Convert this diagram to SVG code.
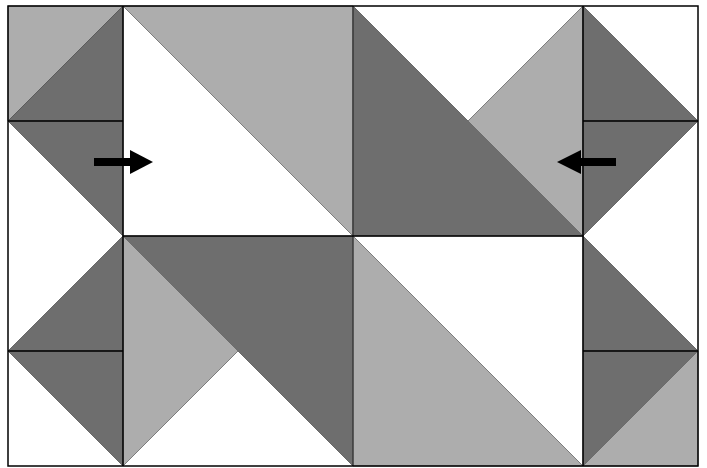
<svg xmlns="http://www.w3.org/2000/svg" width="707" height="468" viewBox="0 0 707 468">
<style>
.l{fill:#adadad;stroke:#666;stroke-width:0.8}
.d{fill:#6e6e6e;stroke:#555;stroke-width:0.8}
.g{stroke:#000;stroke-width:1.5;fill:none}
.a{fill:#000}
</style>
<rect x="0" y="0" width="707" height="468" fill="#fff"/>
<g id="tiles">
<polygon class="l" points="8,6 123,6 8,121"/>
<polygon class="d" points="123,6 123,121 8,121"/>
<polygon class="d" points="8,121 123,121 123,236"/>
<polygon class="l" points="123,6 353,6 353,236"/>
<polygon class="d" points="353,6 583,236 353,236"/>
<polygon class="l" points="583,6 583,236 468,121"/>
<polygon class="d" points="583,6 698,121 583,121"/>
<polygon class="d" points="583,121 698,121 583,236"/>
<polygon class="d" points="123,236 123,351 8,351"/>
<polygon class="d" points="8,351 123,351 123,466"/>
<polygon class="d" points="123,236 353,236 353,466"/>
<polygon class="l" points="123,236 238,351 123,466"/>
<polygon class="l" points="353,236 353,466 583,466"/>
<polygon class="d" points="583,236 698,351 583,351"/>
<polygon class="d" points="583,351 698,351 583,466"/>
<polygon class="l" points="698,351 698,466 583,466"/>
</g>
<g id="grid">
<line class="g" x1="123" y1="6" x2="123" y2="466"/>
<line class="g" x1="583" y1="6" x2="583" y2="466"/>
<line x1="353" y1="6" x2="353" y2="466" stroke="#333" stroke-width="1.2"/>
<line class="g" x1="123" y1="236" x2="583" y2="236"/>
<line class="g" x1="8" y1="121" x2="123" y2="121"/>
<line class="g" x1="583" y1="121" x2="698" y2="121"/>
<line class="g" x1="8" y1="351" x2="123" y2="351"/>
<line class="g" x1="583" y1="351" x2="698" y2="351"/>
<rect class="g" x="8" y="6" width="690" height="460"/>
</g>
<g id="arrows">
<g id="arrow-right">
<rect class="a" x="94" y="158" width="37" height="8"/>
<polygon class="a" points="130,150 153,162 130,174"/>
</g>
<g id="arrow-left">
<rect class="a" x="580" y="158" width="36" height="8"/>
<polygon class="a" points="581,150 557,162 581,174"/>
</g>
</g>
</svg>
